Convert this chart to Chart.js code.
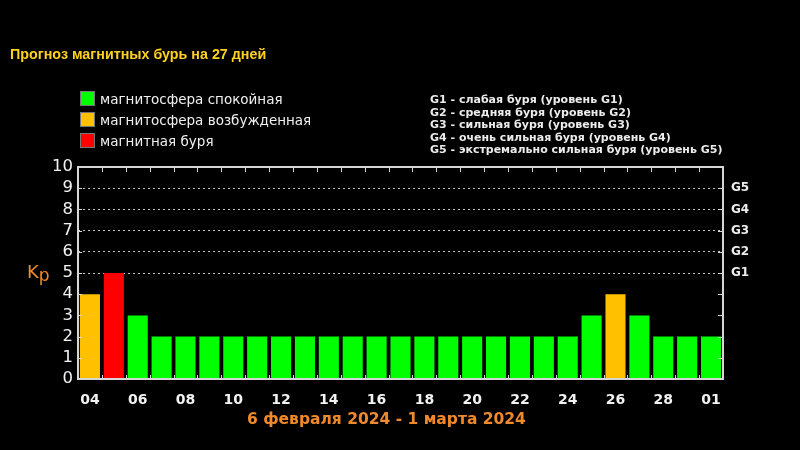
<!DOCTYPE html>
<html lang="ru">
<head>
<meta charset="utf-8">
<title>Прогноз магнитных бурь на 27 дней</title>
<script src="https://cdn.jsdelivr.net/npm/chart.js@4.4.1/dist/chart.umd.min.js"></script>
<style>
  html, body { margin: 0; padding: 0; background: #000; }
  #wrap { position: relative; width: 800px; height: 450px; overflow: hidden; }
  #kpChart { position: absolute; left: 0; top: 0; }
  .txt { position: absolute; white-space: nowrap; }
  #title { left: 10px; top: 46px; line-height: 16px; color: #ffd21f; font: bold 14.3px "Liberation Sans", Arial, sans-serif; }
  .leg { left: 80px; height: 21px; line-height: 21px; color: #f0f0f0; font: 13.5px "DejaVu Sans", Verdana, sans-serif; }
  .leg i { display: inline-block; width: 15px; height: 15px; vertical-align: -2px; margin-right: 5px; border: 1px solid #777; box-sizing: border-box; }
  #gdesc { left: 430px; top: 93px; line-height: 12.6px; color: #ececec; font: bold 11px "DejaVu Sans", Verdana, sans-serif; }
  #gdesc div { height: 12.6px; }
  #kp { left: 27px; top: 261px; color: #ef8a2a; font: 18px "DejaVu Sans", Verdana, sans-serif; }
  #kp sub { font-size: 17px; vertical-align: -3px; }
  #dates { left: 247px; top: 410px; line-height: 20px; color: #f0892a; font: bold 15.5px "DejaVu Sans", Verdana, sans-serif; }
</style>
</head>
<body>
<div id="wrap">
  <canvas id="kpChart" width="800" height="450"></canvas>
  <div class="txt" id="title">Прогноз магнитных бурь на 27 дней</div>
  <div id="legend"></div>
  <div class="txt" id="gdesc"></div>
  <div class="txt" id="kp">K<sub>p</sub></div>
  <div class="txt" id="dates">6 февраля 2024 - 1 марта 2024</div>
</div>
<script>
/* --------------- Data --------------------- */
const days = ["04", "05", "06", "07", "08", "09", "10", "11", "12", "13", "14", "15", "16", "17",
  "18", "19", "20", "21", "22", "23", "24", "25", "26", "27", "28", "29", "01"];
const kpValues = [4, 5, 3, 2, 2, 2, 2, 2, 2, 2, 2, 2, 2, 2, 2, 2, 2, 2, 2, 2, 2, 3, 4, 3, 2, 2, 2];

const stormLevels = ["G1", "G2", "G3", "G4", "G5"]; // kp 5..9
const stormNames = [
  "G1 - слабая буря (уровень G1)",
  "G2 - средняя буря (уровень G2)",
  "G3 - сильная буря (уровень G3)",
  "G4 - очень сильная буря (уровень G4)",
  "G5 - экстремально сильная буря (уровень G5)",
];
const legendNames = ["магнитосфера спокойная", "магнитосфера возбужденная", "магнитная буря"];
const legendColors = ["#00ff00", "#ffc000", "#ff0000"];

/* --------------- Colour for a kp value --------------------- */
const kpColor = (v) => (v >= 5 ? legendColors[2] : v === 4 ? legendColors[1] : legendColors[0]);

/* --------------- Text blocks --------------------- */
const legendBox = document.getElementById("legend");
legendNames.forEach((name, i) => {
  const row = document.createElement("div");
  row.className = "txt leg";
  row.style.top = 91 + i * 21 + "px";
  row.innerHTML = `<i style="background:${legendColors[i]}"></i>${name}`;
  legendBox.appendChild(row);
});
document.getElementById("gdesc").innerHTML = stormNames.map((s) => `<div>${s}</div>`).join("");

/* --------------- Frame, tick marks --------------------- */
const framePlugin = {
  id: "frame",
  afterDraw(chart) {
    const { ctx, chartArea: a, scales } = chart;
    ctx.save();
    ctx.strokeStyle = "#d6d6d6";
    ctx.lineWidth = 1;
    ctx.beginPath();
    // boundaries between days, top and bottom
    for (let i = 1; i < days.length; i++) {
      const x = Math.round((scales.x.getPixelForValue(i - 1) + scales.x.getPixelForValue(i)) / 2) + 0.5;
      ctx.moveTo(x, a.top); ctx.lineTo(x, a.top + 5);
      ctx.moveTo(x, a.bottom); ctx.lineTo(x, a.bottom - 4);
    }
    // small marks on both sides
    for (let v = 1; v < 10; v++) {
      const y = Math.round(scales.y.getPixelForValue(v)) + 0.5;
      ctx.moveTo(a.right - 5, y); ctx.lineTo(a.right, y);
      ctx.moveTo(a.left, y); ctx.lineTo(a.left + 4, y);
    }
    ctx.stroke();
    ctx.lineWidth = 2;
    ctx.strokeRect(a.left, a.top, a.right - a.left, a.bottom - a.top);
    ctx.restore();
  },
};

/* --------------- Chart --------------------- */
new Chart(document.getElementById("kpChart"), {
  type: "bar",
  plugins: [framePlugin],
  data: {
    labels: days,
    datasets: [{
      data: kpValues,
      backgroundColor: kpValues.map(kpColor),
      barPercentage: 0.84,
      categoryPercentage: 1,
    }],
  },
  options: {
    responsive: false,
    animation: false,
    layout: { padding: { top: 167, left: 0, right: 0, bottom: 0 } },
    plugins: { legend: { display: false }, tooltip: { enabled: false } },
    scales: {
      x: {
        grid: { display: false },
        border: { display: false },
        ticks: {
          autoSkip: false,
          maxRotation: 0,
          color: "#f2f2f2",
          padding: 5,
          font: { family: "'DejaVu Sans', Verdana, sans-serif", size: 14, weight: "bold" },
          callback: (v, i) => (i % 2 === 0 ? days[i] : ""),
        },
        afterFit: (s) => { s.height = 71; },
      },
      y: {
        min: 0,
        max: 10,
        border: { display: false, dash: [2, 3] },
        grid: {
          drawTicks: false,
          color: (c) => (c.tick && c.tick.value >= 5 && c.tick.value <= 9 ? "#c4c4c4" : "transparent"),
        },
        ticks: {
          stepSize: 1,
          autoSkip: false,
          color: "#f2f2f2",
          padding: 5,
          font: { family: "'DejaVu Sans', Verdana, sans-serif", size: 16.5 },
        },
        afterFit: (s) => { s.width = 78; },
      },
      y2: {
        position: "right",
        display: true,
        min: 0,
        max: 10,
        border: { display: false },
        grid: { display: false, drawTicks: false },
        ticks: {
          stepSize: 1,
          autoSkip: false,
          color: "#ececec",
          padding: 8,
          font: { family: "'DejaVu Sans', Verdana, sans-serif", size: 12, weight: "bold" },
          callback: (v) => (v >= 5 && v <= 9 ? stormLevels[v - 5] : ""),
        },
        afterFit: (s) => { s.width = 77; },
      },
    },
  },
});
</script>
</body>
</html>
